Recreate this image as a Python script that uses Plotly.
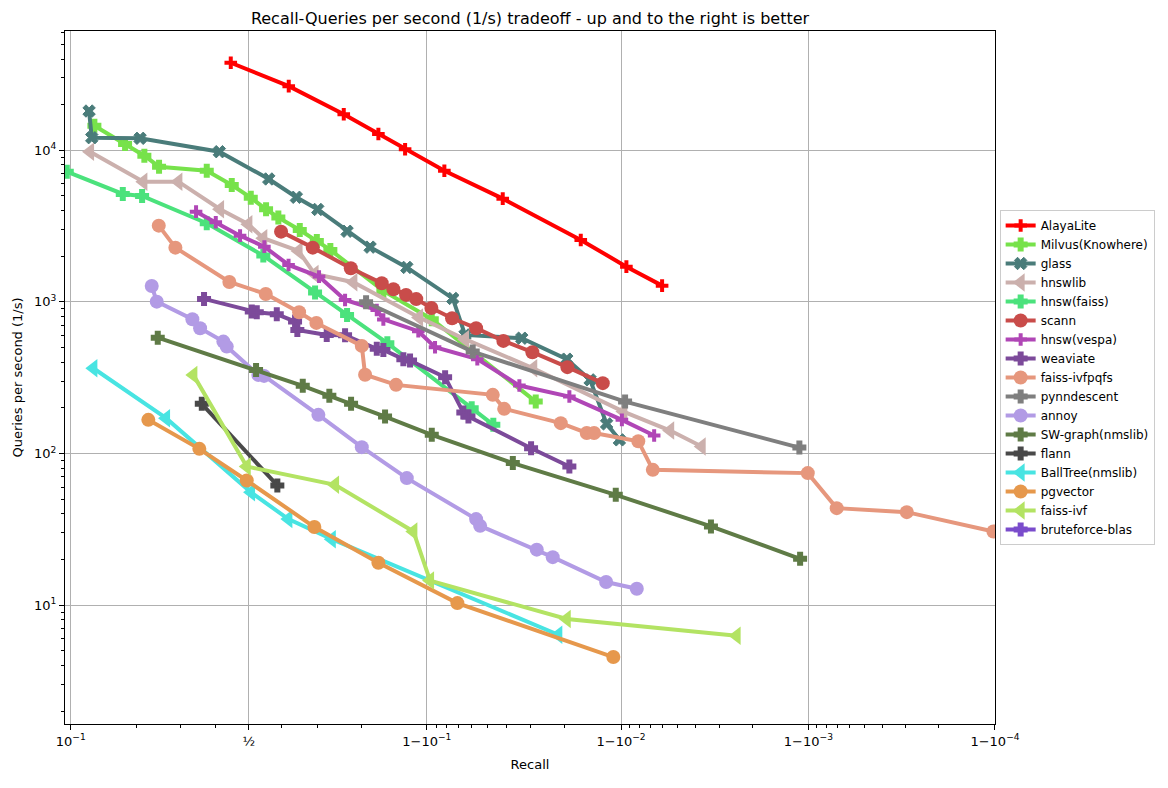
import numpy as np
import plotly.graph_objects as go

# ---------------- data (recall, queries per second) ----------------
alayalite_recall = [0.4447, 0.6209, 0.7636, 0.8320, 0.8732, 0.9179, 0.9583, 0.98366, 0.99063, 0.99395]
alayalite_qps = [37800, 26500, 17280, 12810, 10150, 7337, 4797, 2563, 1708, 1280]

milvus_recall = [0.1295, 0.1785, 0.2161, 0.2484, 0.3732, 0.4477, 0.5062, 0.5532, 0.5903, 0.6524,
                 0.6985, 0.7324, 0.8404, 0.9054, 0.97186]
milvus_qps = [14530, 11000, 9213, 7796, 7337, 5904, 4870, 4083, 3606, 2982,
              2523, 2201, 1181, 768.7, 220]

glass_recall = [0.1223, 0.1259, 0.2073, 0.4103, 0.5614, 0.6427, 0.7009, 0.7709, 0.8172, 0.8755,
                0.9254, 0.9352, 0.96673, 0.98064, 0.98541, 0.98807, 0.98979]
glass_qps = [18160, 12110, 12000, 9790, 6468, 4899, 4071, 2924, 2297, 1688,
             1054, 605.7, 576, 419, 305.9, 156.8, 123]

hnswlib_recall = [0.1236, 0.2140, 0.2955, 0.4124, 0.4988, 0.5448, 0.649, 0.6926, 0.7843, 0.8911,
                  0.9352, 0.9710, 0.99028, 0.99452, 0.99628]
hnswlib_qps = [9790, 6209, 6209, 4083, 3252, 2629, 2168, 1529, 1348, 790,
               567.4, 365, 189, 141.6, 111.1]

hnsw_faiss_recall = [0.0957, 0.1744, 0.2114, 0.3732, 0.5448, 0.6939, 0.7709, 0.8469, 0.9400, 0.9534]
hnsw_faiss_qps = [7227, 5151, 4996, 3302, 2020, 1154, 820.6, 534, 199, 154.5]

scann_recall = [0.5984, 0.6878, 0.7789, 0.8377, 0.8563, 0.8745, 0.8877, 0.905, 0.9248, 0.9430,
                0.9586, 0.9707, 0.98078, 0.98750]
scann_qps = [2906, 2280, 1667, 1328, 1212, 1112, 1043, 912, 780, 670.6,
             552.9, 465.8, 371, 291]

hnsw_vespa_recall = [0.3429, 0.3996, 0.4732, 0.548, 0.6204, 0.7042, 0.7665, 0.8292, 0.8404, 0.8902,
                     0.9088, 0.9438, 0.96578, 0.98124, 0.9901, 0.99333]
hnsw_vespa_qps = [3937, 3352, 2735, 2314, 1753, 1468, 1030, 885, 766, 640.7,
                  502.5, 419, 280.5, 237.4, 166.7, 131.3]

weaviate_recall = [0.3654, 0.5093, 0.5247, 0.5856, 0.6391, 0.6456, 0.7236, 0.7665, 0.8292, 0.8404,
                   0.8708, 0.8798, 0.9186, 0.9339, 0.9377, 0.97024, 0.98124]
weaviate_qps = [1046, 862.7, 855, 829, 741.3, 653.6, 605.7, 603, 491, 482.3,
                419, 410, 318.6, 186.2, 175.2, 108.4, 82]

ivfpqfs_recall = [0.2477, 0.2879, 0.4404, 0.5523, 0.6505, 0.6973, 0.8014, 0.8078, 0.8603, 0.9531,
                  0.9590, 0.97918, 0.98481, 0.98610, 0.99190, 0.99322, 0.998993, 0.999295, 0.999703, 0.999898]
ivfpqfs_qps = [3184, 2280, 1354, 1128, 855, 726.6, 512.5, 331, 283.5, 243.6,
               197, 158.5, 136.6, 136.6, 120.5, 78, 74.2, 43.6, 41, 30.6]

pynndescent_recall = [0.8097, 0.9407, 0.99048, 0.998883]
pynndescent_qps = [995, 470, 220, 109.4]

annoy_recall = [0.2319, 0.2431, 0.3327, 0.3542, 0.4223, 0.4325, 0.5296, 0.5471, 0.7025, 0.8014,
                0.8755, 0.9430, 0.9456, 0.97220, 0.97706, 0.98800, 0.99175]
annoy_qps = [1274, 1004, 768.7, 670.6, 547, 507, 330, 325, 179.8, 110.1,
             68.8, 36.9, 33.3, 23.2, 20.7, 14.2, 12.8]

swgraph_recall = [0.2454, 0.5225, 0.6607, 0.73, 0.7795, 0.8432, 0.9054, 0.9630, 0.98933, 0.99668, 0.998893]
swgraph_qps = [581, 355.9, 279.3, 239.9, 212.5, 175.2, 132.7, 86.4, 53.4, 33.0, 20.2]

flann_recall = [0.359, 0.5873]
flann_qps = [212.5, 61.5]

balltree_recall = [0.1281, 0.2649, 0.5071, 0.6198, 0.7359, 0.97856]
balltree_qps = [365, 171, 55.4, 36.9, 27.2, 6.37]

pgvector_recall = [0.2245, 0.3521, 0.4938, 0.692, 0.832, 0.9292, 0.98901]
pgvector_qps = [166.7, 107.3, 66.3, 32.7, 19.0, 10.3, 4.54]

faiss_ivf_recall = [0.3354, 0.4938, 0.7437, 0.8841, 0.9036, 0.98064, 0.99758]
faiss_ivf_qps = [330, 82, 62.1, 30.6, 14.5, 8.09, 6.28]

# bruteforce-blas has no point inside the plotted recall range (only in the legend)
bruteforce_recall = []
bruteforce_qps = []

x_tick_recalls = [0.1, 0.5, 0.9, 0.99, 0.999, 0.9999]
x_tick_labels = ["10<sup>\u22121</sup>", "\u00bd", "1\u221210<sup>\u22121</sup>",
                 "1\u221210<sup>\u22122</sup>", "1\u221210<sup>\u22123</sup>", "1\u221210<sup>\u22124</sup>"]
y_tick_values = [10, 100, 1000, 10000]
y_tick_labels = ["10<sup>1</sup>", "10<sup>2</sup>", "10<sup>3</sup>", "10<sup>4</sup>"]


def logit(r):
    r = np.asarray(r, dtype=float)
    return np.log10(r / (1 - r))


series = [
    ("AlayaLite", alayalite_recall, alayalite_qps, "#ff0000", "plus"),
    ("Milvus(Knowhere)", milvus_recall, milvus_qps, "#77e24b", "blob"),
    ("glass", glass_recall, glass_qps, "#4a7c7a", "x"),
    ("hnswlib", hnswlib_recall, hnswlib_qps, "#cbb0ad", "tri"),
    ("hnsw(faiss)", hnsw_faiss_recall, hnsw_faiss_qps, "#4be27c", "blob"),
    ("scann", scann_recall, scann_qps, "#c94c4a", "circle"),
    ("hnsw(vespa)", hnsw_vespa_recall, hnsw_vespa_qps, "#b046b6", "plus"),
    ("weaviate", weaviate_recall, weaviate_qps, "#7c4a9a", "blob"),
    ("faiss-ivfpqfs", ivfpqfs_recall, ivfpqfs_qps, "#e6977d", "circle"),
    ("pynndescent", pynndescent_recall, pynndescent_qps, "#7f7f7f", "blob"),
    ("annoy", annoy_recall, annoy_qps, "#b29be5", "circle"),
    ("SW-graph(nmslib)", swgraph_recall, swgraph_qps, "#5f7b46", "blob"),
    ("flann", flann_recall, flann_qps, "#494949", "blob"),
    ("BallTree(nmslib)", balltree_recall, balltree_qps, "#48e4e2", "tri"),
    ("pgvector", pgvector_recall, pgvector_qps, "#e6984c", "circle"),
    ("faiss-ivf", faiss_ivf_recall, faiss_ivf_qps, "#b3e363", "tri"),
    ("bruteforce-blas", bruteforce_recall, bruteforce_qps, "#7a4ccc", "blob"),
]

fig = go.Figure()
for name, rec, qps, color, mk in series:
    if mk == "plus":
        marker = dict(symbol="cross-thin", size=9, color=color, line=dict(color=color, width=4))
    elif mk == "blob":
        marker = dict(symbol="cross", size=10, color=color, line=dict(color=color, width=2))
    elif mk == "x":
        marker = dict(symbol="x", size=11, color=color, line=dict(color=color, width=1))
    elif mk == "tri":
        marker = dict(symbol="triangle-left", size=16, color=color, line=dict(width=0))
    else:
        marker = dict(symbol="circle", size=14, color=color, line=dict(width=0))
    if len(rec):
        xs, ys = list(logit(rec)), qps
    else:
        xs, ys = [None], [None]
    fig.add_trace(go.Scatter(
        x=xs, y=ys, name=name, mode="lines+markers", showlegend=True,
        line=dict(color=color, width=4), marker=marker,
    ))

minor_x = ([0.2, 0.3, 0.4, 0.6, 0.7, 0.8]
           + [1 - k / 100 for k in range(2, 10)]
           + [1 - k / 1000 for k in range(2, 10)]
           + [1 - k / 10000 for k in range(2, 10)])
minor_y = [m * 10 ** e for e in range(0, 5) for m in range(2, 10)]

fig.update_layout(
    width=1168, height=788,
    margin=dict(l=65, r=173, t=31, b=64),
    paper_bgcolor="white", plot_bgcolor="white",
    font=dict(family="DejaVu Sans", size=13, color="black"),
    title=dict(text="Recall-Queries per second (1/s) tradeoff - up and to the right is better",
               x=(65 + 995) / 2 / 1168, xanchor="center", y=1 - 18 / 788, yanchor="middle",
               yref="container", font=dict(size=16, color="black")),
    showlegend=True,
    legend=dict(x=1.005, xanchor="left", y=0.5, yanchor="middle",
                bordercolor="#cccccc", borderwidth=1, font=dict(size=12),
                tracegroupgap=0, bgcolor="white"),
)

fig.update_xaxes(
    range=[-0.985, 4.0], tickmode="array",
    tickvals=list(logit(x_tick_recalls)), ticktext=x_tick_labels,
    showgrid=True, gridcolor="#b0b0b0", gridwidth=1, zeroline=False,
    showline=True, linecolor="black", linewidth=1, mirror=True,
    ticks="outside", ticklen=5, tickcolor="black",
    minor=dict(tickmode="array", tickvals=list(logit(minor_x)), ticks="outside",
               ticklen=3, tickcolor="black", showgrid=False),
    title=dict(text="Recall", font=dict(size=13), standoff=12),
    tickfont=dict(size=13),
)
fig.update_yaxes(
    type="log", range=[0.2154, 4.787], tickmode="array",
    tickvals=y_tick_values, ticktext=y_tick_labels,
    showgrid=True, gridcolor="#b0b0b0", gridwidth=1, zeroline=False,
    showline=True, linecolor="black", linewidth=1, mirror=True,
    ticks="outside", ticklen=5, tickcolor="black",
    minor=dict(tickmode="array", tickvals=minor_y, ticks="outside",
               ticklen=3, tickcolor="black", showgrid=False),
    title=dict(text="Queries per second (1/s)", font=dict(size=13), standoff=8),
    tickfont=dict(size=13),
)

fig.write_html("out.html")
